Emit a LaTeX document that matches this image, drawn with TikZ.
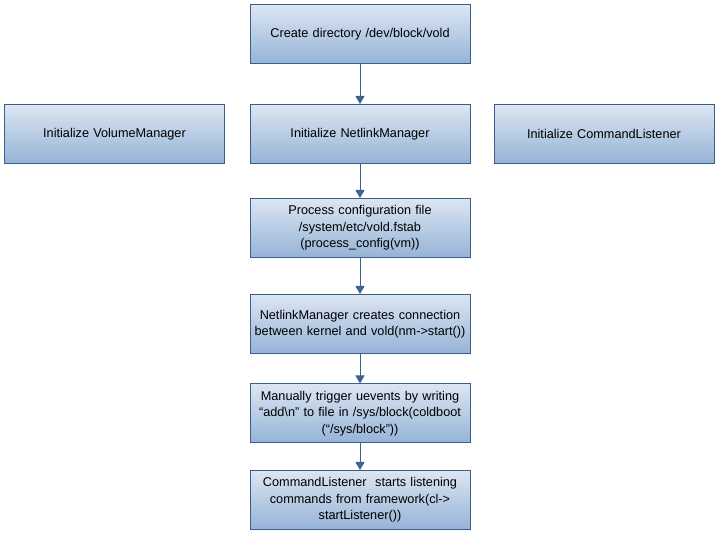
\documentclass[tikz,border=0pt]{standalone}
\usepackage{fontspec}
\setmainfont{Liberation Sans}
\usetikzlibrary{arrows.meta, positioning}
\definecolor{boxtop}{HTML}{DCE6F2}
\definecolor{boxbot}{HTML}{95B3D7}
\definecolor{boxline}{HTML}{3A5F8E}
\definecolor{flowline}{HTML}{3D6290}
\tikzset{
  stepbox/.style={rectangle, draw=boxline, line width=1pt,
                  top color=boxtop, bottom color=boxbot,
                  minimum width=220pt, minimum height=59pt, inner sep=2pt,
                  text width=214pt, align=center,
                  font=\fontsize{12.7}{16.3}\selectfont},
  flow/.style={-{Triangle[length=8pt,width=9pt]}, line width=1pt, draw=flowline},
}
\begin{document}
\begin{tikzpicture}[x=1pt, y=-1pt]
  \useasboundingbox (0,0) rectangle (718,534);
  % main column
  \node[stepbox] (mkdir) at (360, 34.5) {Create directory /dev/block/vold};
  \node[stepbox] (initnm) at (360, 134) {Initialize NetlinkManager};
  \node[stepbox] (config) at (360, 228) {Process configuration file\\/system/etc/vold.fstab\\(process\_config(vm))};
  \node[stepbox] (nmstart) at (360, 324) {NetlinkManager creates connection\\between kernel and vold(nm->start())};
  \node[stepbox] (coldboot) at (360, 413.5) {Manually trigger uevents by writing\\``add\textbackslash n'' to file in /sys/block(coldboot\\(``/sys/block''))};
  \node[stepbox] (listen) at (360, 500) {CommandListener\ \ starts listening\\commands from framework(cl->\\startListener())};

  % side boxes
  \node[stepbox] (initvm) at (114.5, 134) {Initialize VolumeManager};
  \node[stepbox] (initcl) at (604, 134) {Initialize CommandListener};

  % arrows down the column
  \draw[flow] (mkdir) -- (initnm);
  \draw[flow] (initnm) -- (config);
  \draw[flow] (config) -- (nmstart);
  \draw[flow] (nmstart) -- (coldboot);
  \draw[flow] (coldboot) -- (listen);
\end{tikzpicture}
\end{document}
